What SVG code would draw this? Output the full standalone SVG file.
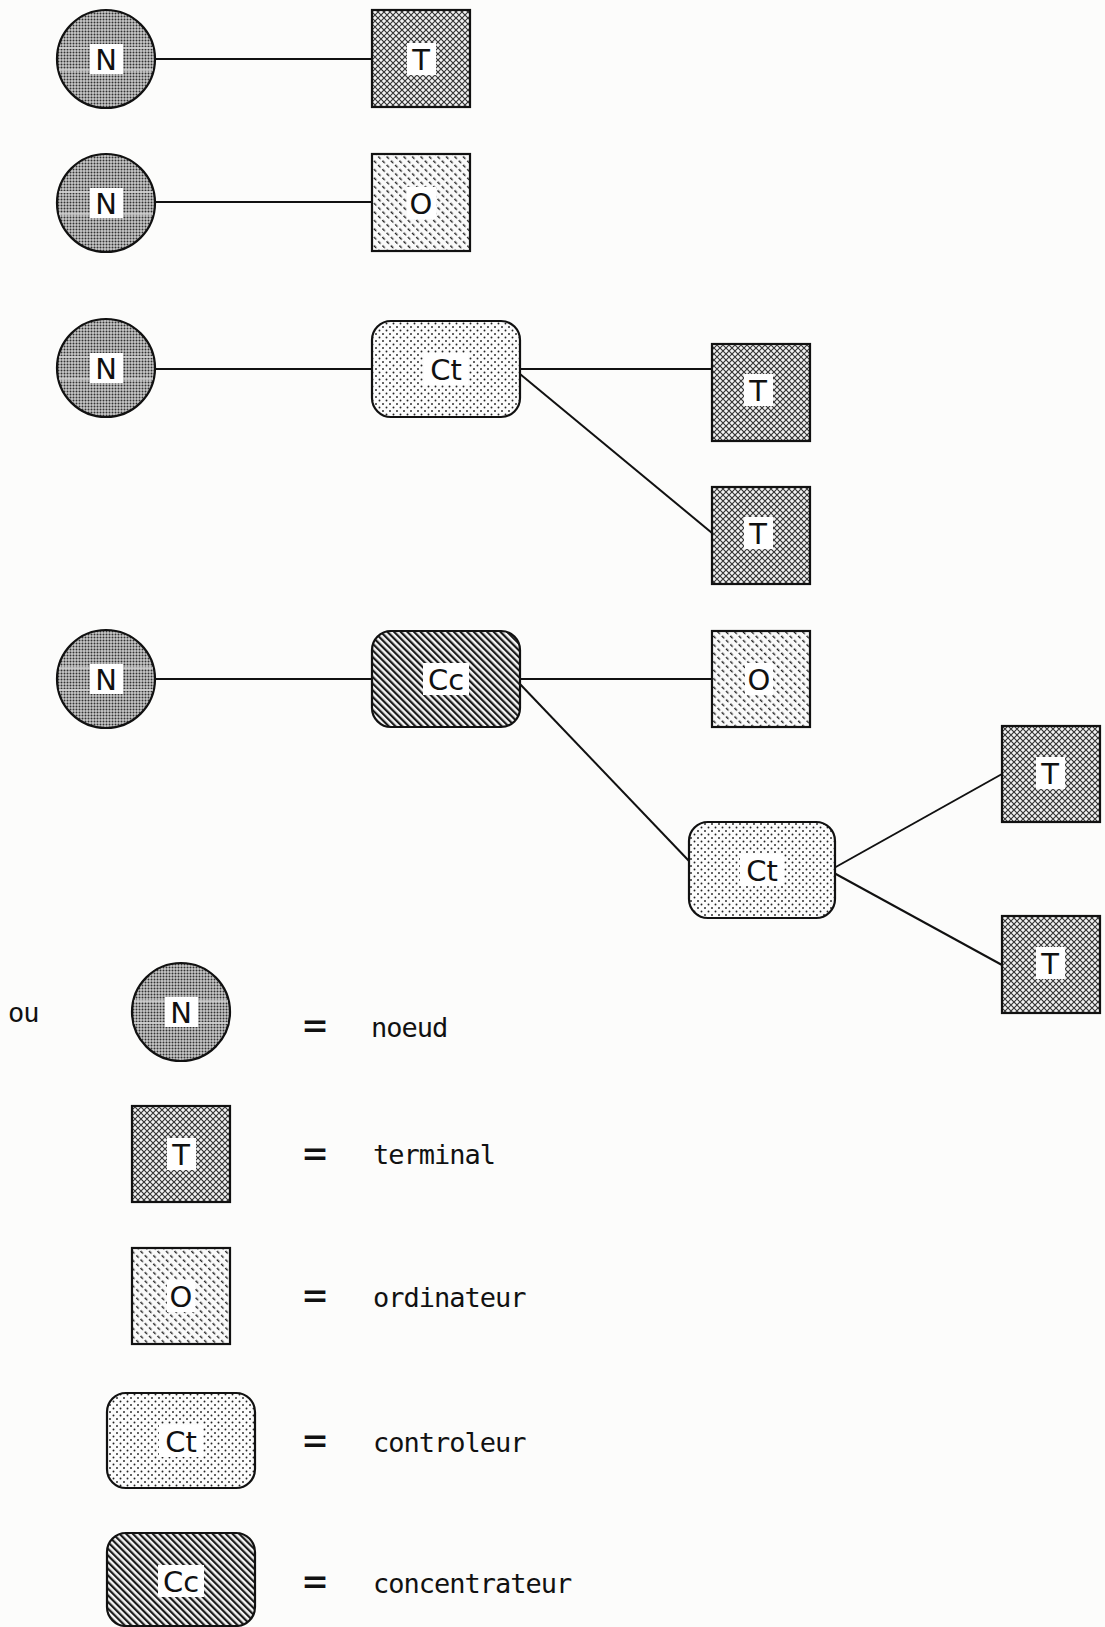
<svg xmlns="http://www.w3.org/2000/svg" width="1105" height="1627" viewBox="0 0 1105 1627">
<style>
.ol{stroke:#111;stroke-width:2.2}
.lb{fill:#fff;stroke:none}
.lt{font-family:"DejaVu Sans","Liberation Sans",sans-serif;font-size:29px;fill:#111;text-anchor:middle}
.tx{font-family:"DejaVu Sans Mono","Liberation Mono",monospace;font-size:27px;letter-spacing:-1px;fill:#111}
.eq{font-family:"DejaVu Sans Mono","Liberation Mono",monospace;font-size:40px;fill:#111;text-anchor:middle}
.band{stroke:#d2d2d2;stroke-width:1.6}
#connectors line{stroke:#111;stroke-width:2}
</style>
<defs>
<pattern id="pN" width="3" height="3" patternUnits="userSpaceOnUse">
<rect width="3" height="3" fill="#c9c9c9"/>
<circle cx="1.5" cy="1.5" r="1" fill="#333"/>
</pattern>
<pattern id="pT" width="6" height="6" patternUnits="userSpaceOnUse">
<rect width="6" height="6" fill="#f2f2f2"/>
<path d="M0,0L6,6M6,0L0,6" stroke="#333" stroke-width="1.15"/>
</pattern>
<pattern id="pO" width="6" height="6" patternUnits="userSpaceOnUse" patternTransform="rotate(-45)">
<rect width="6" height="6" fill="#fafafa"/>
<rect x="0" y="0" width="1.4" height="3.4" fill="#222"/>
</pattern>
<pattern id="pCt" width="7" height="7" patternUnits="userSpaceOnUse">
<rect width="7" height="7" fill="#fcfcfc"/>
<circle cx="1.5" cy="1.5" r="0.95" fill="#222"/>
<circle cx="5" cy="5" r="0.95" fill="#222"/>
</pattern>
<pattern id="pCc" width="4.7" height="8" patternUnits="userSpaceOnUse" patternTransform="rotate(-45)">
<rect width="4.7" height="8" fill="#f4f4f4"/>
<rect x="0" y="0" width="2.2" height="8" fill="#1a1a1a"/>
</pattern>
</defs>
<rect width="1105" height="1627" fill="#fcfcfb"/>

<g id="connectors">
<line x1="155" y1="59" x2="372" y2="59"/>
<line x1="155" y1="202" x2="372" y2="202"/>
<line x1="155" y1="369" x2="372" y2="369"/>
<line x1="520" y1="369" x2="712" y2="369"/>
<line x1="520" y1="374" x2="712" y2="533"/>
<line x1="155" y1="679" x2="372" y2="679"/>
<line x1="520" y1="679" x2="712" y2="679"/>
<line x1="519" y1="683" x2="689" y2="861"/>
<line x1="834" y1="868" x2="1002" y2="774"/>
<line x1="834" y1="873" x2="1002" y2="965"/>
</g>

<g id="n1"><circle cx="106" cy="59" r="49" fill="url(#pN)" class="ol"/><line class="band" x1="59" y1="48" x2="153" y2="48"/><line class="band" x1="59" y1="70" x2="153" y2="70"/><rect class="lb" x="90" y="44" width="33" height="30"/><text class="lt" x="106" y="70">N</text></g>
<g id="t1"><rect x="372" y="10" width="98" height="97" fill="url(#pT)" class="ol"/><rect class="lb" x="407" y="43" width="29" height="32"/><text class="lt" x="421" y="70">T</text></g>

<g id="n2"><circle cx="106" cy="203" r="49" fill="url(#pN)" class="ol"/><line class="band" x1="59" y1="192" x2="153" y2="192"/><line class="band" x1="59" y1="214" x2="153" y2="214"/><rect class="lb" x="90" y="188" width="33" height="30"/><text class="lt" x="106" y="214">N</text></g>
<g id="o1"><rect x="372" y="154" width="98" height="97" fill="url(#pO)" class="ol"/><rect class="lb" x="407" y="187" width="29" height="32"/><text class="lt" x="421" y="214">O</text></g>

<g id="n3"><circle cx="106" cy="368" r="49" fill="url(#pN)" class="ol"/><line class="band" x1="59" y1="357" x2="153" y2="357"/><line class="band" x1="59" y1="379" x2="153" y2="379"/><rect class="lb" x="90" y="353" width="33" height="30"/><text class="lt" x="106" y="379">N</text></g>
<g id="ct1"><rect x="372" y="321" width="148" height="96" rx="19" fill="url(#pCt)" class="ol"/><rect class="lb" x="424" y="353" width="44" height="32"/><text class="lt" x="446" y="380">Ct</text></g>
<g id="t2"><rect x="712" y="344" width="98" height="97" fill="url(#pT)" class="ol"/><rect class="lb" x="744" y="374" width="29" height="32"/><text class="lt" x="758" y="401">T</text></g>
<g id="t3"><rect x="712" y="487" width="98" height="97" fill="url(#pT)" class="ol"/><rect class="lb" x="744" y="517" width="29" height="32"/><text class="lt" x="758" y="544">T</text></g>

<g id="n4"><circle cx="106" cy="679" r="49" fill="url(#pN)" class="ol"/><line class="band" x1="59" y1="668" x2="153" y2="668"/><line class="band" x1="59" y1="690" x2="153" y2="690"/><rect class="lb" x="90" y="664" width="33" height="30"/><text class="lt" x="106" y="690">N</text></g>
<g id="cc1"><rect x="372" y="631" width="148" height="96" rx="19" fill="url(#pCc)" class="ol"/><rect class="lb" x="423" y="663" width="46" height="32"/><text class="lt" x="446" y="690">Cc</text></g>
<g id="o2"><rect x="712" y="631" width="98" height="96" fill="url(#pO)" class="ol"/><rect class="lb" x="745" y="663" width="28" height="32"/><text class="lt" x="759" y="690">O</text></g>
<g id="ct2"><rect x="689" y="822" width="146" height="96" rx="19" fill="url(#pCt)" class="ol"/><rect class="lb" x="740" y="854" width="44" height="32"/><text class="lt" x="762" y="881">Ct</text></g>
<g id="t4"><rect x="1002" y="726" width="98" height="96" fill="url(#pT)" class="ol"/><rect class="lb" x="1036" y="757" width="29" height="32"/><text class="lt" x="1050" y="784">T</text></g>
<g id="t5"><rect x="1002" y="916" width="98" height="97" fill="url(#pT)" class="ol"/><rect class="lb" x="1036" y="947" width="29" height="32"/><text class="lt" x="1050" y="974">T</text></g>

<g id="legend">
<text class="tx" x="8" y="1022">ou</text>
<g id="lg-n"><circle cx="181" cy="1012" r="49" fill="url(#pN)" class="ol"/><line class="band" x1="134" y1="1001" x2="228" y2="1001"/><line class="band" x1="134" y1="1023" x2="228" y2="1023"/><rect class="lb" x="165" y="997" width="33" height="30"/><text class="lt" x="181" y="1023">N</text></g>
<text class="eq" x="315" y="1039">=</text>
<text class="tx" x="371" y="1037">noeud</text>

<g id="lg-t"><rect x="132" y="1106" width="98" height="96" fill="url(#pT)" class="ol"/><rect class="lb" x="167" y="1138" width="29" height="32"/><text class="lt" x="181" y="1165">T</text></g>
<text class="eq" x="315" y="1167">=</text>
<text class="tx" x="373" y="1164">terminal</text>

<g id="lg-o"><rect x="132" y="1248" width="98" height="96" fill="url(#pO)" class="ol"/><rect class="lb" x="167" y="1280" width="28" height="32"/><text class="lt" x="181" y="1307">O</text></g>
<text class="eq" x="315" y="1309">=</text>
<text class="tx" x="373" y="1307">ordinateur</text>

<g id="lg-ct"><rect x="107" y="1393" width="148" height="95" rx="19" fill="url(#pCt)" class="ol"/><rect class="lb" x="159" y="1425" width="44" height="32"/><text class="lt" x="181" y="1452">Ct</text></g>
<text class="eq" x="315" y="1454">=</text>
<text class="tx" x="373" y="1452">controleur</text>

<g id="lg-cc"><rect x="107" y="1533" width="148" height="93" rx="19" fill="url(#pCc)" class="ol"/><rect class="lb" x="158" y="1565" width="46" height="32"/><text class="lt" x="181" y="1592">Cc</text></g>
<text class="eq" x="315" y="1595">=</text>
<text class="tx" x="373" y="1593">concentrateur</text>
</g>
</svg>
